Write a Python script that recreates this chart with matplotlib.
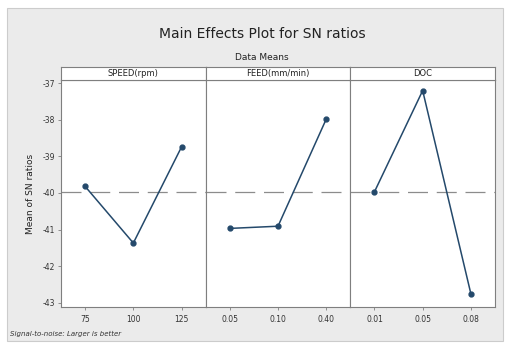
import matplotlib
matplotlib.use("Agg")
import matplotlib.pyplot as plt
from matplotlib.patches import Rectangle

# Factor names and levels
factors = ["SPEED(rpm)", "FEED(mm/min)", "DOC"]
speed_levels = ["75", "100", "125"]
feed_levels = ["0.05", "0.10", "0.40"]
doc_levels = ["0.01", "0.05", "0.08"]

# Mean S/N ratio (dB) at each level
speed_sn = [-39.82, -41.37, -38.74]
feed_sn = [-40.97, -40.91, -37.98]
doc_sn = [-39.97, -37.20, -42.76]

y_ticks = [-37, -38, -39, -40, -41, -42, -43]

levels = [speed_levels, feed_levels, doc_levels]
values = [speed_sn, feed_sn, doc_sn]
grand_mean = sum(speed_sn + feed_sn + doc_sn) / 9.0

W, H = 512, 347
fig = plt.figure(figsize=(W / 100, H / 100), dpi=100, facecolor="white")

def fx(px):
    return px / W

def fy(py):
    return 1 - py / H

# Light gray plot background with a thin border
bg = Rectangle((fx(7), fy(341)), fx(503) - fx(7), fy(8) - fy(341),
               transform=fig.transFigure, facecolor="#ebebeb",
               edgecolor="#cccccc", linewidth=0.8, zorder=-10)
fig.add_artist(bg)

line_color = "#24496b"
frame_color = "#7f7f7f"

left, right = 61, 495
top_data, bottom = 80, 307
strip_top = 67
pw = (right - left) / 3.0

fig.text(fx(262), fy(34), "Main Effects Plot for SN ratios", ha="center",
         va="center", fontsize=10, color="#222222")
fig.text(fx(262), fy(58), "Data Means", ha="center", va="center",
         fontsize=6.5, color="#222222")

for i in range(3):
    x0 = left + i * pw
    ax = fig.add_axes([fx(x0), fy(bottom), pw / W, (bottom - top_data) / H])
    ax.set_facecolor("white")
    xs = [1, 2, 3]
    ax.axhline(grand_mean, color="#8c8c8c", linestyle=(0, (16, 7)),
               linewidth=0.9, zorder=1)
    ax.plot(xs, values[i], color=line_color, linewidth=1.1, marker="o",
            markersize=3.5, zorder=3)
    ax.set_xlim(0.5, 3.5)
    ax.set_ylim(-43.12, -36.91)
    ax.set_xticks(xs)
    ax.set_xticklabels(levels[i], fontsize=5.5, color="#333333")
    ax.set_yticks(y_ticks)
    if i == 0:
        ax.set_yticklabels([str(t) for t in y_ticks], fontsize=5.5,
                           color="#333333")
        ax.set_ylabel("Mean of SN ratios", fontsize=6.5, color="#222222",
                      labelpad=6)
        ax.tick_params(axis="y", length=2, width=0.6, color=frame_color,
                       pad=2)
    else:
        ax.tick_params(axis="y", left=False, labelleft=False)
    ax.tick_params(axis="x", length=2, width=0.6, color=frame_color, pad=4)
    for sp in ax.spines.values():
        sp.set_color(frame_color)
        sp.set_linewidth(0.8)

    # Factor name strip on top of each panel
    sax = fig.add_axes([fx(x0), fy(top_data), pw / W,
                        (top_data - strip_top) / H])
    sax.set_facecolor("white")
    sax.set_xticks([])
    sax.set_yticks([])
    for sp in sax.spines.values():
        sp.set_color(frame_color)
        sp.set_linewidth(0.8)
    sax.text(0.5, 0.5, factors[i], ha="center", va="center", fontsize=6,
             color="#222222", transform=sax.transAxes)

fig.text(fx(10), fy(334), "Signal-to-noise: Larger is better", ha="left",
         va="center", fontsize=5, style="italic", color="#333333")

fig.savefig("out.png", dpi=100, facecolor="white")
